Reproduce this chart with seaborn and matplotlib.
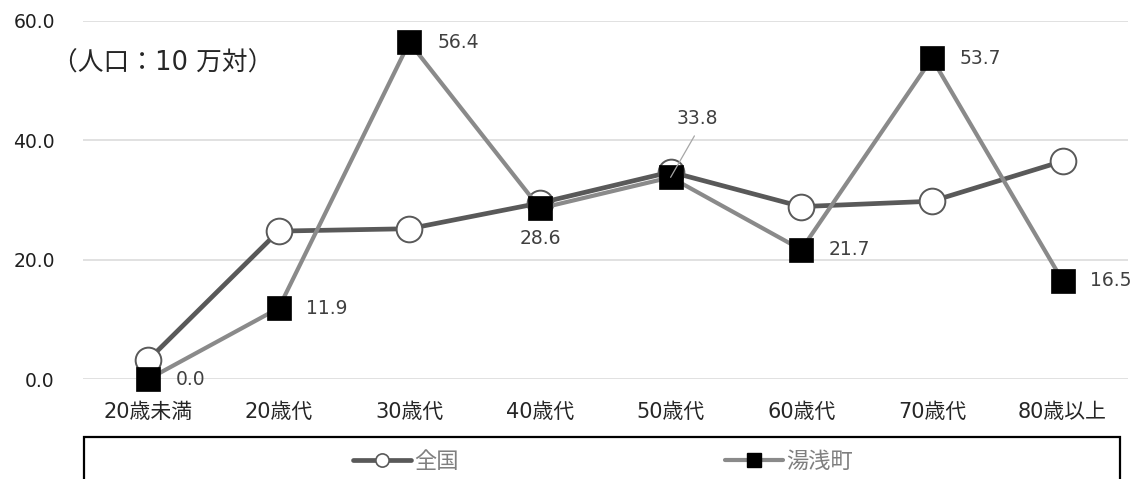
import matplotlib
matplotlib.use("Agg")
import matplotlib.pyplot as plt
from matplotlib.lines import Line2D
from matplotlib.patches import Rectangle
import seaborn as sns
import pandas as pd
import numpy as np

# ---- data ----
categories = ["20歳未満", "20歳代", "30歳代", "40歳代", "50歳代", "60歳代", "70歳代", "80歳以上"]
zenkoku = [3.2, 24.8, 25.2, 29.5, 34.7, 28.9, 29.8, 36.5]
yuasa = [0.0, 11.9, 56.4, 28.6, 33.8, 21.7, 53.7, 16.5]
series_names = ["全国", "湯浅町"]
y_ticks = [0, 20, 40, 60]
unit_note = "（人口：10 万対）"

sns.set_style("white")
plt.rcParams["font.family"] = ["DejaVu Sans", "Noto Sans CJK JP"]

fig = plt.figure(figsize=(11.4, 4.79), dpi=100)
ax = fig.add_axes([0.0725, 0.2081, 0.9169, 0.7486])

df = pd.DataFrame({"cat": categories, series_names[0]: zenkoku, series_names[1]: yuasa})

c_zen = "#595959"
c_yua = "#8a8a8a"

sns.lineplot(data=df, x="cat", y=series_names[0], sort=False, ax=ax,
             color=c_zen, linewidth=3.4, marker="o", markersize=18.5,
             markerfacecolor="white", markeredgecolor=c_zen, markeredgewidth=1.4,
             clip_on=False, zorder=3)
sns.lineplot(data=df, x="cat", y=series_names[1], sort=False, ax=ax,
             color=c_yua, linewidth=3.0, marker="s", markersize=17,
             markerfacecolor="black", markeredgecolor="black", markeredgewidth=0.5,
             clip_on=False, zorder=4)

ax.set_xlim(-0.5, len(categories) - 0.5)
ax.set_ylim(0, 60)
ax.set_yticks(y_ticks)
ax.set_yticklabels([f"{v:.1f}" for v in y_ticks], fontsize=13.5, color="#1f1f1f")
ax.set_xticks(range(len(categories)))
ax.set_xticklabels(categories, fontsize=15, color="#262626")
ax.tick_params(axis="y", length=0, pad=20)
ax.tick_params(axis="x", length=0, pad=16)
ax.set_xlabel("")
ax.set_ylabel("")
for s in ax.spines.values():
    s.set_visible(False)
ax.yaxis.grid(True, color="#d9d9d9", linewidth=1.1)
ax.xaxis.grid(False)
ax.set_axisbelow(True)

# data labels for 湯浅町
lbl_color = "#404040"
for i, v in enumerate(yuasa):
    txt = f"{v:.1f}"
    if i == 3:
        ax.annotate(txt, (i, v), xytext=(0, -22), textcoords="offset points",
                    ha="center", va="center", fontsize=13.5, color=lbl_color, zorder=6)
    elif i == 4:
        ax.annotate(txt, (i, v), xytext=(19, 42.5), textcoords="offset points",
                    ha="center", va="center", fontsize=13.5, color=lbl_color, zorder=6,
                    arrowprops=dict(arrowstyle="-", color="#a6a6a6", lw=0.9,
                                    shrinkA=4, shrinkB=0, relpos=(0.55, 0.0)))
    else:
        ax.annotate(txt, (i, v), xytext=(20, 0), textcoords="offset points",
                    ha="left", va="center", fontsize=13.5, color=lbl_color, zorder=6)

fig.text(52 / 1140, 1 - 63.5 / 479, unit_note, ha="left", va="center",
         fontsize=18.5, color="#262626")

# legend
handles = [
    Line2D([], [], color=c_zen, lw=3.4, marker="o", markersize=9.5,
           markerfacecolor="white", markeredgecolor=c_zen, markeredgewidth=1.2),
    Line2D([], [], color=c_yua, lw=3.0, marker="s", markersize=9.5,
           markerfacecolor="black", markeredgecolor="black"),
]
fig.legend(handles, series_names, loc="center", bbox_to_anchor=(0.529, 0.036),
           ncol=2, frameon=False, handlelength=2.6, handletextpad=0.15,
           columnspacing=12, fontsize=16, labelcolor="#7f7f7f")
fig.add_artist(Rectangle((83.6 / 1140, -0.1), (1120 - 83.6) / 1140,
                         (479 - 437.3) / 479 + 0.1, transform=fig.transFigure,
                         fill=False, edgecolor="black", linewidth=1.6))

fig.savefig("out.png", dpi=100)
